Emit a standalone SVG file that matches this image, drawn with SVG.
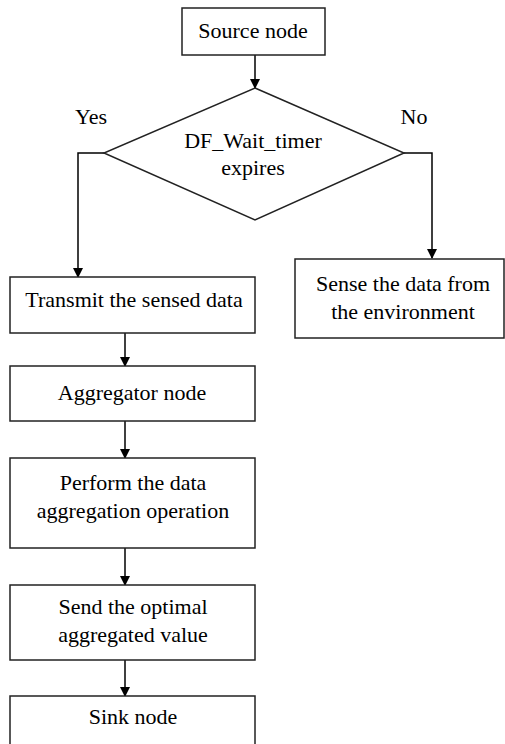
<svg xmlns="http://www.w3.org/2000/svg" width="505" height="744" viewBox="0 0 505 744">
<defs>
<marker id="ah" markerWidth="10" markerHeight="10" refX="9" refY="5" orient="auto" markerUnits="userSpaceOnUse">
<path d="M0,0 L10,5 L0,10 Z" fill="#000"/>
</marker>
<style>
.b{fill:#fff;stroke:#222;stroke-width:1.5}
.t{font-family:"Liberation Serif","Times New Roman",serif;font-size:22px;fill:#000;text-anchor:middle}
.c{fill:none;stroke:#000;stroke-width:1.5}
</style>
</defs>
<rect width="505" height="744" fill="#fff"/>
<g id="connectors">
<line class="c" x1="255" y1="55" x2="255" y2="88" marker-end="url(#ah)"/>
<polyline class="c" points="104,153 78,153 78,277" marker-end="url(#ah)"/>
<polyline class="c" points="404,153 432,153 432,258" marker-end="url(#ah)"/>
<line class="c" x1="125" y1="333" x2="125" y2="366" marker-end="url(#ah)"/>
<line class="c" x1="125" y1="421" x2="125" y2="458" marker-end="url(#ah)"/>
<line class="c" x1="125" y1="548" x2="125" y2="585" marker-end="url(#ah)"/>
<line class="c" x1="125" y1="660" x2="125" y2="696" marker-end="url(#ah)"/>
<text class="t" x="91" y="124">Yes</text>
<text class="t" x="414" y="124">No</text>
</g>
<g id="source">
<rect class="b" x="182" y="8" width="143" height="47"/>
<text class="t" x="253" y="38">Source node</text>
</g>
<g id="decision">
<polygon class="b" points="255,88 404,153 255,220 104,153"/>
<text class="t" x="253" y="148">DF_Wait_timer</text>
<text class="t" x="253" y="175">expires</text>
</g>
<g id="transmit">
<rect class="b" x="10" y="277" width="245" height="56"/>
<text class="t" x="134" y="307">Transmit the sensed data</text>
</g>
<g id="sense">
<rect class="b" x="295" y="259" width="209" height="79"/>
<text class="t" x="403" y="291">Sense the data from</text>
<text class="t" x="403" y="319">the environment</text>
</g>
<g id="aggregator">
<rect class="b" x="10" y="366" width="245" height="55"/>
<text class="t" x="132" y="400">Aggregator node</text>
</g>
<g id="perform">
<rect class="b" x="10" y="458" width="245" height="90"/>
<text class="t" x="133" y="490">Perform the data</text>
<text class="t" x="133" y="518">aggregation operation</text>
</g>
<g id="send">
<rect class="b" x="10" y="585" width="245" height="75"/>
<text class="t" x="133" y="614">Send the optimal</text>
<text class="t" x="133" y="642">aggregated value</text>
</g>
<g id="sink">
<rect class="b" x="10" y="696" width="245" height="60"/>
<text class="t" x="133" y="724">Sink node</text>
</g>
</svg>
